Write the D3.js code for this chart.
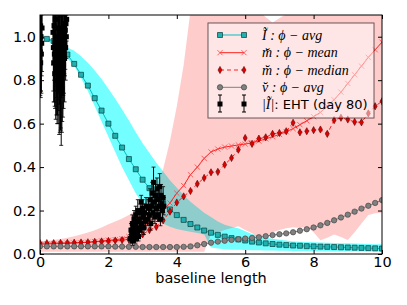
<!DOCTYPE html>
<html>
<head>
<meta charset="utf-8">
<script src="https://cdn.jsdelivr.net/npm/d3@7"></script>
<style>
  body { margin: 0; background: #fff; }
  svg { display: block; }
</style>
</head>
<body>
<script>
/* Data */
const baseline = [0, 0.2, 0.4, 0.6, 0.8, 1, 1.2, 1.4, 1.6, 1.8, 2, 2.2, 2.4, 2.6, 2.8, 3, 3.2, 3.4, 3.6, 3.8, 4,
  4.2, 4.4, 4.6, 4.8, 5, 5.2, 5.4, 5.6, 5.8, 6, 6.2, 6.4, 6.6, 6.8, 7, 7.2, 7.4, 7.6, 7.8, 8,
  8.2, 8.4, 8.6, 8.8, 9, 9.2, 9.4, 9.6, 9.8, 10];

// I~ : phi-avg
const iAvg = [1.0, 0.99, 0.98, 0.955, 0.918, 0.875, 0.825, 0.775, 0.717, 0.66, 0.60,
  0.544, 0.49, 0.437, 0.39, 0.342, 0.303, 0.267, 0.234, 0.205, 0.179,
  0.157, 0.138, 0.122, 0.108, 0.098, 0.088, 0.080, 0.073, 0.067, 0.062,
  0.057, 0.053, 0.049, 0.046, 0.043, 0.041, 0.039, 0.038, 0.036, 0.035,
  0.034, 0.033, 0.032, 0.031, 0.030, 0.029, 0.028, 0.027, 0.026, 0.025];
const iUp = [1.0, 0.995, 0.985, 0.97, 0.95, 0.935, 0.91, 0.88, 0.845, 0.805, 0.76,
  0.715, 0.665, 0.615, 0.56, 0.51, 0.465, 0.42, 0.38, 0.34, 0.305,
  0.27, 0.24, 0.215, 0.19, 0.17, 0.15, 0.135, 0.125, 0.118, 0.105,
  0.092, 0.082, 0.075, 0.07, 0.066, 0.062, 0.058, 0.056, 0.055, 0.054,
  0.053, 0.052, 0.051, 0.05, 0.049, 0.048, 0.047, 0.046, 0.045, 0.045];
const iLo = [1.0, 0.985, 0.96, 0.93, 0.9, 0.865, 0.81, 0.75, 0.68, 0.61, 0.54,
  0.47, 0.40, 0.34, 0.28, 0.23, 0.19, 0.16, 0.14, 0.125, 0.115,
  0.108, 0.102, 0.097, 0.09, 0.03, 0.025, 0.022, 0.02, 0.019, 0.018,
  0.017, 0.017, 0.016, 0.016, 0.015, 0.015, 0.014, 0.014, 0.014, 0.013,
  0.013, 0.013, 0.012, 0.012, 0.012, 0.012, 0.011, 0.011, 0.011, 0.011];

// m : phi-mean, m : phi-median, and the pink band
const mMean = [0.045, 0.046, 0.047, 0.048, 0.049, 0.05, 0.052, 0.054, 0.057, 0.06, 0.063,
  0.066, 0.07, 0.08, 0.1, 0.125, 0.148, 0.175, 0.2, 0.235, 0.28,
  0.315, 0.365, 0.4, 0.44, 0.47, 0.483, 0.492, 0.497, 0.502, 0.506,
  0.512, 0.52, 0.53, 0.54, 0.55, 0.563, 0.577, 0.595, 0.613, 0.632,
  0.652, 0.68, 0.71, 0.745, 0.785, 0.825, 0.865, 0.905, 0.94, 0.975];
const mMedian = [0.05, 0.05, 0.05, 0.051, 0.051, 0.052, 0.053, 0.054, 0.056, 0.058, 0.06,
  0.062, 0.064, 0.067, 0.075, 0.09, 0.11, 0.125, 0.155, 0.195, 0.237,
  0.265, 0.29, 0.323, 0.35, 0.376, 0.378, 0.411, 0.442, 0.48, 0.534,
  0.507, 0.531, 0.537, 0.553, 0.557, 0.565, 0.604, 0.56, 0.565, 0.57,
  0.573, 0.553, 0.616, 0.627, 0.619, 0.608, 0.606, 0.647, 0.68, 0.703];
const mUp = [0.057, 0.06, 0.064, 0.069, 0.075, 0.082, 0.09, 0.099, 0.109, 0.122, 0.137,
  0.15, 0.163, 0.18, 0.2, 0.225, 0.26, 0.31, 0.39, 0.52, 0.68,
  0.87, 1.12, 1.3, 1.3, 1.3, 1.3, 1.3, 1.3, 1.3, 1.3,
  1.3, 1.12, 1.09, 1.065, 1.085, 1.105, 1.3, 1.3, 1.3, 1.3,
  1.3, 1.3, 1.3, 1.3, 1.3, 1.3, 1.3, 1.3, 1.3, 1.3];
const mLo = [0.01, 0.01, 0.01, 0.01, 0.01, 0.01, 0.01, 0.01, 0.01, 0.01, 0.01,
  0.01, 0.01, 0.01, 0.01, 0.01, 0.01, 0.01, 0.01, 0.01, 0.01,
  0.01, 0.01, 0.01, 0.01, 0.09, 0.1, 0.11, 0.12, 0.128, 0.11,
  0.096, 0.075, 0.085, 0.1, 0.11, 0.119, 0.123, 0.12, 0.125, 0.1,
  0.063, 0.075, 0.09, 0.078, 0.065, 0.1, 0.14, 0.18, 0.187, 0.19];

// v : phi-avg
const vAvg = [0.035, 0.035, 0.035, 0.035, 0.035, 0.035, 0.035, 0.035, 0.035, 0.035, 0.035,
  0.034, 0.034, 0.033, 0.033, 0.032, 0.032, 0.032, 0.032, 0.032, 0.032,
  0.033, 0.035, 0.04, 0.046, 0.052, 0.057, 0.061, 0.065, 0.068, 0.071,
  0.074, 0.077, 0.082, 0.087, 0.091, 0.095, 0.1, 0.107, 0.114, 0.122,
  0.132, 0.143, 0.155, 0.168, 0.181, 0.195, 0.209, 0.222, 0.235, 0.248];

// |I|: EHT (day 80)
const ehtX = [0.0, 0.01, 0.02, 0.02, 0.03, 0.04, 0.05, 0.06,
  0.38, 0.39, 0.40, 0.41, 0.42, 0.43, 0.44, 0.45, 0.46, 0.47, 0.48, 0.49, 0.50, 0.51,
  0.52, 0.53, 0.54, 0.55, 0.56, 0.57, 0.58, 0.59, 0.60, 0.61, 0.62, 0.63, 0.64, 0.65,
  0.66, 0.67, 0.68, 0.69, 0.70, 0.71, 0.72, 0.73, 0.74, 0.75, 0.76, 0.77, 0.78,
  2.64, 2.66, 2.68, 2.70, 2.71, 2.72, 2.74, 2.75, 2.76, 2.78, 2.79, 2.80, 2.82, 2.83,
  2.85, 2.86, 2.88, 2.90, 2.91, 2.93, 2.95, 2.96, 2.98, 3.00, 3.02, 3.04, 3.06, 3.08, 3.10,
  3.14, 3.17, 3.20, 3.22, 3.24, 3.26, 3.28, 3.30, 3.32, 3.34, 3.36, 3.38, 3.40, 3.42,
  3.44, 3.46, 3.48, 3.50, 3.52, 3.54, 3.56, 3.58, 3.60, 3.62];
const ehtY = [0.98, 0.93, 1.05, 0.88, 1.0, 0.92, 0.97, 1.04,
  1.02, 0.95, 0.88, 1.05, 0.92, 0.83, 0.97, 1.08, 0.86, 0.93, 0.80, 1.0, 0.90, 0.84,
  0.96, 0.78, 1.04, 0.88, 0.82, 0.94, 0.86, 0.99, 0.79, 0.91, 0.85, 1.02, 0.76, 0.89,
  0.95, 0.83, 0.98, 0.87, 0.92, 1.05, 0.90, 0.97, 1.03, 0.95, 1.06, 1.0, 1.08,
  0.07, 0.11, 0.09, 0.14, 0.06, 0.12, 0.08, 0.16, 0.10, 0.13, 0.07, 0.18, 0.09, 0.15,
  0.12, 0.20, 0.08, 0.16, 0.11, 0.19, 0.14, 0.24, 0.13, 0.21, 0.17, 0.12, 0.19, 0.15, 0.22,
  0.16, 0.21, 0.18, 0.25, 0.14, 0.22, 0.28, 0.19, 0.33, 0.24, 0.17, 0.27, 0.21, 0.30,
  0.18, 0.25, 0.22, 0.31, 0.16, 0.27, 0.23, 0.20, 0.26, 0.22];
const ehtErr = [0.12, 0.2, 0.3, 0.16, 0.25, 0.18, 0.15, 0.2,
  0.15, 0.2, 0.18, 0.25, 0.22, 0.15, 0.3, 0.2, 0.24, 0.18, 0.16, 0.28, 0.3, 0.2,
  0.25, 0.18, 0.3, 0.22, 0.27, 0.25, 0.3, 0.22, 0.22, 0.33, 0.35, 0.3, 0.2, 0.28,
  0.22, 0.2, 0.25, 0.2, 0.18, 0.22, 0.2, 0.15, 0.18, 0.15, 0.12, 0.1, 0.1,
  0.02, 0.03, 0.03, 0.04, 0.02, 0.03, 0.02, 0.04, 0.03, 0.04, 0.02, 0.04, 0.03, 0.04,
  0.03, 0.05, 0.02, 0.04, 0.03, 0.04, 0.03, 0.03, 0.03, 0.04, 0.04, 0.03, 0.04, 0.03, 0.04,
  0.03, 0.04, 0.04, 0.05, 0.03, 0.04, 0.05, 0.04, 0.07, 0.05, 0.03, 0.05, 0.04, 0.05,
  0.03, 0.05, 0.04, 0.06, 0.03, 0.05, 0.04, 0.04, 0.05, 0.04];

const xTicks = [0, 2, 4, 6, 8, 10];
const yTicks = [0, 0.2, 0.4, 0.6, 0.8, 1.0];

/* Layout */
const W = 407, H = 305;
const MARGIN = { top: 15, right: 25, bottom: 51, left: 40 };
const PW = W - MARGIN.left - MARGIN.right;
const PH = H - MARGIN.top - MARGIN.bottom;

const svg = d3.select("body").append("svg")
  .attr("width", W)
  .attr("height", H);

const x = d3.scaleLinear().domain([0, 10]).range([0, PW]);
const y = d3.scaleLinear().domain([0, 1.1]).range([PH, 0]);

svg.append("defs").append("clipPath").attr("id", "clip")
  .append("rect").attr("width", PW).attr("height", PH);

const g = svg.append("g").attr("transform", `translate(${MARGIN.left},${MARGIN.top})`);
const plot = g.append("g").attr("clip-path", "url(#clip)");

/* Bands */
const band = (up, lo) => d3.area()
  .x((d, i) => x(baseline[i]))
  .y0((d, i) => y(lo[i]))
  .y1((d, i) => y(up[i]))(baseline);

plot.append("path").attr("d", band(iUp, iLo))
  .attr("fill", "#00ffff").attr("fill-opacity", 0.55);
plot.append("path").attr("d", band(mUp, mLo))
  .attr("fill", "#ff0000").attr("fill-opacity", 0.2);

const line = vals => d3.line()
  .x((d, i) => x(baseline[i]))
  .y((d, i) => y(vals[i]))(baseline);

/* Marker shapes */
const sqPath = s => `M${-s},${-s}h${2 * s}v${2 * s}h${-2 * s}Z`;
const diamondPath = "M0,-3.6L2,0L0,3.6L-2,0Z";
const crossPath = "M-2.6,-2.6L2.6,2.6M-2.6,2.6L2.6,-2.6";

/* I~ */
plot.append("path").attr("d", line(iAvg))
  .attr("fill", "none").attr("stroke", "#00bfbf").attr("stroke-width", 1);
plot.selectAll(".sq").data(iAvg).enter().append("path")
  .attr("class", "sq")
  .attr("transform", (d, i) => `translate(${x(baseline[i])},${y(d)})`)
  .attr("d", sqPath(2.5))
  .attr("fill", "#1fb0b0").attr("stroke", "#0b3d3d").attr("stroke-width", 0.7);

/* m mean */
plot.append("path").attr("d", line(mMean))
  .attr("fill", "none").attr("stroke", "#ff2020").attr("stroke-width", 1);
plot.selectAll(".cr").data(mMean).enter().append("path")
  .attr("class", "cr")
  .attr("transform", (d, i) => `translate(${x(baseline[i])},${y(d)})`)
  .attr("d", crossPath)
  .attr("fill", "none").attr("stroke", "#ff4040").attr("stroke-width", 0.8);

/* m median */
plot.append("path").attr("d", line(mMedian))
  .attr("fill", "none").attr("stroke", "#ff2020").attr("stroke-width", 1)
  .attr("stroke-dasharray", "4,3");
plot.selectAll(".dm").data(mMedian).enter().append("path")
  .attr("class", "dm")
  .attr("transform", (d, i) => `translate(${x(baseline[i])},${y(d)})`)
  .attr("d", diamondPath)
  .attr("fill", "#e00000").attr("stroke", "#600000").attr("stroke-width", 0.6);

/* v */
plot.append("path").attr("d", line(vAvg))
  .attr("fill", "none").attr("stroke", "#808080").attr("stroke-width", 1);
plot.selectAll(".ci").data(vAvg).enter().append("circle")
  .attr("class", "ci")
  .attr("cx", (d, i) => x(baseline[i]))
  .attr("cy", d => y(d))
  .attr("r", 2.7)
  .attr("fill", "#808080").attr("stroke", "#3a3a3a").attr("stroke-width", 0.6);

/* EHT error bars */
const eht = plot.selectAll(".eht").data(ehtX).enter().append("g")
  .attr("class", "eht")
  .attr("transform", (d, i) => `translate(${x(d)},0)`);
eht.append("line")
  .attr("y1", (d, i) => y(ehtY[i] - ehtErr[i]))
  .attr("y2", (d, i) => y(ehtY[i] + ehtErr[i]))
  .attr("stroke", "#000").attr("stroke-width", 1);
eht.append("line")
  .attr("x1", -2).attr("x2", 2)
  .attr("y1", (d, i) => y(ehtY[i] - ehtErr[i]))
  .attr("y2", (d, i) => y(ehtY[i] - ehtErr[i]))
  .attr("stroke", "#000").attr("stroke-width", 0.8);
eht.append("line")
  .attr("x1", -2).attr("x2", 2)
  .attr("y1", (d, i) => y(ehtY[i] + ehtErr[i]))
  .attr("y2", (d, i) => y(ehtY[i] + ehtErr[i]))
  .attr("stroke", "#000").attr("stroke-width", 0.8);
eht.append("path")
  .attr("transform", (d, i) => `translate(0,${y(ehtY[i])})`)
  .attr("d", sqPath(2.5))
  .attr("fill", "#000");

/* Axes */
const font = "DejaVu Sans, sans-serif";
const xAxis = g.append("g").attr("transform", `translate(0,${PH})`)
  .call(d3.axisBottom(x).tickValues(xTicks).tickFormat(d3.format("d"))
    .tickSizeInner(-4).tickSizeOuter(0).tickPadding(3));
const xTop = g.append("g")
  .call(d3.axisTop(x).tickValues(xTicks).tickFormat("").tickSizeInner(-4).tickSizeOuter(0));
const yAxis = g.append("g")
  .call(d3.axisLeft(y).tickValues(yTicks).tickFormat(d3.format(".1f"))
    .tickSizeInner(-4).tickSizeOuter(0).tickPadding(4));
const yRight = g.append("g").attr("transform", `translate(${PW},0)`)
  .call(d3.axisRight(y).tickValues(yTicks).tickFormat("").tickSizeInner(-4).tickSizeOuter(0));

[xAxis, xTop, yAxis, yRight].forEach(a => {
  a.select(".domain").remove();
  a.selectAll("line").attr("stroke", "#000");
  a.selectAll("text").attr("fill", "#000")
    .style("font-family", font).style("font-size", "14.5px");
});

g.append("rect")
  .attr("width", PW).attr("height", PH)
  .attr("fill", "none").attr("stroke", "#000").attr("stroke-width", 1);

g.append("text")
  .attr("x", PW / 2).attr("y", PH + 29)
  .attr("text-anchor", "middle")
  .style("font-family", font).style("font-size", "14.5px")
  .text("baseline length");

/* Legend */
const leg = svg.append("g").attr("transform", "translate(208,23)");
leg.append("rect")
  .attr("width", 166).attr("height", 95)
  .attr("fill", "#fff").attr("fill-opacity", 0.5)
  .attr("stroke", "#000").attr("stroke-opacity", 0.6).attr("stroke-width", 1);

const rowY = [12, 29.7, 47, 64.3, 81];
const hx = [12, 36];
const serif = "Liberation Serif, DejaVu Serif, serif";

// row 1
leg.append("line").attr("x1", hx[0]).attr("x2", hx[1]).attr("y1", rowY[0]).attr("y2", rowY[0])
  .attr("stroke", "#00bfbf");
hx.forEach(h => leg.append("path").attr("transform", `translate(${h},${rowY[0]})`)
  .attr("d", sqPath(2.5)).attr("fill", "#1fb0b0").attr("stroke", "#0b3d3d").attr("stroke-width", 0.7));
// row 2
leg.append("line").attr("x1", hx[0]).attr("x2", hx[1]).attr("y1", rowY[1]).attr("y2", rowY[1])
  .attr("stroke", "#ff2020");
hx.forEach(h => leg.append("path").attr("transform", `translate(${h},${rowY[1]})`)
  .attr("d", crossPath).attr("fill", "none").attr("stroke", "#ff4040").attr("stroke-width", 0.8));
// row 3
leg.append("line").attr("x1", hx[0]).attr("x2", hx[1]).attr("y1", rowY[2]).attr("y2", rowY[2])
  .attr("stroke", "#ff2020").attr("stroke-dasharray", "4,3");
hx.forEach(h => leg.append("path").attr("transform", `translate(${h},${rowY[2]})`)
  .attr("d", diamondPath).attr("fill", "#e00000").attr("stroke", "#600000").attr("stroke-width", 0.6));
// row 4
leg.append("line").attr("x1", hx[0]).attr("x2", hx[1]).attr("y1", rowY[3]).attr("y2", rowY[3])
  .attr("stroke", "#808080");
hx.forEach(h => leg.append("circle").attr("cx", h).attr("cy", rowY[3]).attr("r", 2.7)
  .attr("fill", "#808080").attr("stroke", "#3a3a3a").attr("stroke-width", 0.6));
// row 5
hx.forEach(h => {
  leg.append("line").attr("x1", h).attr("x2", h).attr("y1", rowY[4] - 9).attr("y2", rowY[4] + 8)
    .attr("stroke", "#000");
  leg.append("line").attr("x1", h - 2).attr("x2", h + 2).attr("y1", rowY[4] - 9).attr("y2", rowY[4] - 9)
    .attr("stroke", "#000");
  leg.append("line").attr("x1", h - 2).attr("x2", h + 2).attr("y1", rowY[4] + 8).attr("y2", rowY[4] + 8)
    .attr("stroke", "#000");
  leg.append("path").attr("transform", `translate(${h},${rowY[4]})`)
    .attr("d", sqPath(2.5)).attr("fill", "#000");
});

const labels = [
  ["I\u0303 : \u03d5 \u2212 ", "avg"],
  ["m\u0306 : \u03d5 \u2212 ", "mean"],
  ["m\u0306 : \u03d5 \u2212 ", "median"],
  ["v\u0306 : \u03d5 \u2212 ", "avg"]
];
labels.forEach((l, k) => {
  leg.append("text")
    .attr("x", 54).attr("y", rowY[k] + 4.5)
    .style("font-family", serif).style("font-style", "italic").style("font-size", "14px")
    .text(l[0] + l[1]);
});
const t5 = leg.append("text").attr("x", 54).attr("y", rowY[4] + 4.5);
t5.append("tspan").style("font-family", serif).style("font-style", "italic").style("font-size", "14px")
  .text("|I\u0303|");
t5.append("tspan").style("font-family", font).style("font-size", "13px")
  .text(": EHT (day 80)");
</script>
</body>
</html>
